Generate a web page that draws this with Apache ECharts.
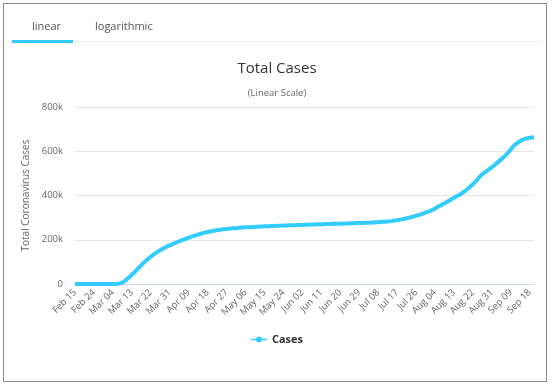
<!DOCTYPE html>
<html>
<head>
<meta charset="utf-8">
<script src="https://cdn.jsdelivr.net/npm/echarts@6/dist/echarts.min.js"></script>
<style>
  html, body { margin: 0; padding: 0; background: #fff; width: 554px; height: 388px; overflow: hidden; }
  #frame { position: absolute; left: 3px; top: 3px; width: 544px; height: 379px; border: 1.5px solid #8c8c8c; box-sizing: border-box; }
  .tab { position: absolute; top: 18px; font-family: "Open Sans", "Noto Sans", sans-serif; font-size: 11px; color: #555; }
  #bar { position: absolute; left: 12px; top: 40px; width: 61px; height: 3px; background: #33ccff; }
  #rule { position: absolute; left: 73px; top: 41px; width: 469px; height: 1px; background: #efefef; }
  #chart { position: absolute; left: 0; top: 0; width: 554px; height: 388px; }
</style>
</head>
<body>
<div id="chart"></div>
<div id="frame"></div>
<div class="tab" style="left:32px">linear</div>
<div class="tab" style="left:95px">logarithmic</div>
<div id="bar"></div>
<div id="rule"></div>
<script>
// Daily categories, Feb 15 to Sep 20 (2020)
const startDate = [2020, 1, 15];
const dayCount = 219;
const monthNames = ['Jan','Feb','Mar','Apr','May','Jun','Jul','Aug','Sep','Oct','Nov','Dec'];
const categories = [];
for (let i = 0; i < dayCount; i++) {
  const d = new Date(startDate[0], startDate[1], startDate[2] + i);
  categories.push(monthNames[d.getMonth()] + ' ' + String(d.getDate()).padStart(2, '0'));
}

// Total cases (thousands)
const casesK = [
  0.002,0.002,0.002,0.002,0.002,0.002,0.002,0.002,0.002,0.003,
  0.007,0.012,0.025,0.032,0.045,0.066,0.083,0.114,0.151,0.2,
  1,2.5,5,9,16,25,33,42,51,61,
  71,80,90,99,108,116,124,131,138,144,
  150,156,161,166,171,175,179,183,187,191,
  195,199,202,206,209,213,216,219,222,225,
  228,230,233,235,237,239,241,243,244,245.5,
  247,248,249,250,251,252,252.5,253,254,255,
  255.5,256,256.5,257,257.5,258,258.5,259,259.5,260,
  260.5,261,261.3,261.7,262,262.5,263,263.4,263.8,264.1,
  264.5,264.8,265.2,265.5,265.9,266.2,266.6,266.9,267.2,267.6,
  268,268.3,268.6,268.9,269.2,269.5,269.8,270.1,270.4,270.7,
  271,271.3,271.6,271.9,272.2,272.5,272.8,273.1,273.4,273.7,
  274,274.3,274.6,274.9,275.2,275.5,275.8,276.1,276.4,276.7,
  277,277.6,278.3,279,279.6,280.3,281,281.5,282,283,
  284.2,285.5,287,288.5,290.3,292,294,296,298.2,300.5,
  303,305.6,308.3,311,314,317.5,321,324.5,328,332,
  336,341,346.5,352,357.5,363,367,373,379,384.5,
  390,395.5,400,405,412,419,426,434,443,451,
  461,471,483,492,500,507,514,521,528,536,
  544,552,560,568,577,587,597,608,620,630,
  637,643,649,654,657,659,661,662,663
];
const cases = casesK.map(v => Math.round(v * 1000));

const yTicks = { min: 0, max: 800000, interval: 200000 };
const lineColor = '#33ccff';
const font = '"Open Sans", "Noto Sans", sans-serif';

const chart = echarts.init(document.getElementById('chart'), null, { renderer: 'canvas' });
chart.setOption({
  animation: false,
  backgroundColor: 'transparent',
  title: {
    text: 'Total Cases',
    subtext: '(Linear Scale)',
    left: 'center',
    top: 56,
    itemGap: 12,
    textStyle: { fontFamily: font, fontSize: 15, fontWeight: 'normal', color: '#333' },
    subtextStyle: { fontFamily: font, fontSize: 9.5, color: '#666' }
  },
  legend: {
    bottom: 38,
    left: 'center',
    itemWidth: 16,
    itemHeight: 6,
    itemGap: 4,
    icon: 'path://M0,2.2 L16,2.2 L16,3.8 L0,3.8 Z M8,0 A3,3 0 1,1 7.99,0 Z',
    textStyle: { fontFamily: font, fontSize: 11, fontWeight: 'bold', color: '#333' },
    data: ['Cases']
  },
  grid: { left: 75, right: 20, top: 107, bottom: 104, containLabel: false },
  xAxis: {
    type: 'category',
    data: categories,
    boundaryGap: false,
    axisLine: { lineStyle: { color: '#ccd6eb', width: 1 } },
    axisTick: { show: false },
    axisLabel: {
      interval: 8,
      rotate: 45,
      margin: 7,
      fontFamily: font,
      fontSize: 9.5,
      color: '#666'
    },
    splitLine: { show: false }
  },
  yAxis: {
    type: 'value',
    min: yTicks.min,
    max: yTicks.max,
    interval: yTicks.interval,
    name: 'Total Coronavirus Cases',
    nameLocation: 'middle',
    nameGap: 39,
    nameTextStyle: { fontFamily: font, fontSize: 10, color: '#666' },
    axisLine: { show: false },
    axisTick: { show: false },
    axisLabel: {
      fontFamily: font,
      fontSize: 9.5,
      color: '#666',
      margin: 12,
      formatter: v => v === 0 ? '0' : (v / 1000) + 'k'
    },
    splitLine: { lineStyle: { color: '#e6e6e6', width: 1 } }
  },
  series: [{
    name: 'Cases',
    type: 'line',
    data: cases,
    showSymbol: false,
    symbol: 'circle',
    symbolSize: 8,
    itemStyle: { color: lineColor },
    lineStyle: { color: lineColor, width: 4 },
    emphasis: { disabled: true }
  }]
});
</script>
</body>
</html>
